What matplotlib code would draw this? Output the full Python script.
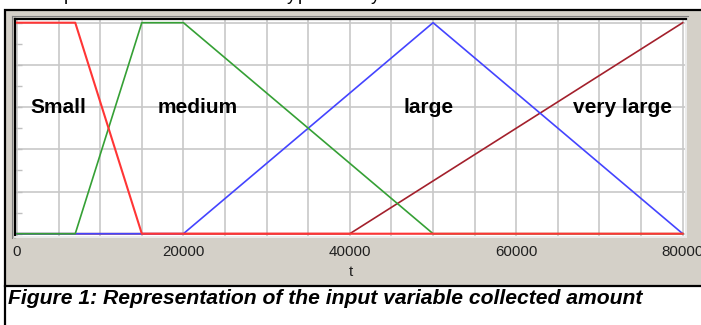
import numpy as np
import matplotlib.pyplot as plt
from matplotlib.patches import Rectangle
from matplotlib.lines import Line2D

# membership functions of the input variable "collected amount"
x_small = [0, 7000, 15000, 80000]
y_small = [1, 1, 0, 0]
x_medium = [0, 7000, 15000, 20000, 50000, 80000]
y_medium = [0, 0, 1, 1, 0, 0]
x_large = [0, 20000, 50000, 80000]
y_large = [0, 0, 1, 0]
x_vlarge = [0, 40000, 80000]
y_vlarge = [0, 0, 1]

set_names = ["Small", "medium", "large", "very large"]
name_x = [5000, 21750, 49400, 72800]
x_ticks = [0, 20000, 40000, 60000, 80000]

W, H = 701, 325
fig = plt.figure(figsize=(W / 100, H / 100), dpi=100)
fig.patch.set_facecolor("white")

def fx(px):
    return px / W

def fy(py):
    return 1 - py / H

# window panel (grey) with black table border
fig.add_artist(Rectangle((fx(5), fy(286)), fx(720), 276 / H, transform=fig.transFigure,
                         facecolor="#d4d0c8", edgecolor="black", lw=1.6, zorder=0))
fig.add_artist(Line2D([fx(5), fx(5)], [fy(286), 0], transform=fig.transFigure,
                      color="black", lw=1.6))

# sunken frame around the plot
fig.add_artist(Line2D([fx(12), fx(688)], [fy(16), fy(16)], transform=fig.transFigure,
                      color="#808080", lw=0.8))
fig.add_artist(Line2D([fx(11.5), fx(11.5)], [fy(16), fy(238)], transform=fig.transFigure,
                      color="#808080", lw=0.8))

ax = fig.add_axes([fx(15), fy(237), fx(686 - 15), (237 - 19) / H])
ax.set_facecolor("white")

sx = 8.3213  # px per 1000
sy = 211.0
ax.set_xlim(-2 / sx * 1000, 80000 + 3.3 / sx * 1000)
ax.set_ylim(-3.3 / sy, 1 + 3.7 / sy)

for gx in np.arange(0, 80001, 5000):
    ax.axvline(gx, color="#c8c8c8", lw=1.2, zorder=1)
for gy in np.arange(0, 1.01, 0.2):
    ax.axhline(gy, color="#c8c8c8", lw=1.2, zorder=1)

ax.plot(x_vlarge, y_vlarge, color="#a3202c", lw=1.2, zorder=3)
ax.plot(x_large, y_large, color="#4444ff", lw=1.2, zorder=4)
ax.plot(x_medium, y_medium, color="#35a035", lw=1.2, zorder=5)
ax.plot(x_small, y_small, color="#ff3535", lw=1.5, zorder=6)

for name, nx in zip(set_names, name_x):
    ax.text(nx, 0.572, name, ha="center", va="baseline", fontsize=15,
            fontweight="bold", family="Liberation Sans", zorder=7)

ax.set_xticks(x_ticks)
ax.set_xticklabels([str(v) for v in x_ticks], family="Liberation Sans",
                   fontsize=10.9, color="#202020")
ax.set_yticks(np.arange(0, 1.01, 0.1))
ax.tick_params(axis="x", length=0, pad=6)
ax.tick_params(axis="y", direction="in", length=5, color="#c0c0c0", width=1,
               labelleft=False)
ax.set_xlabel("t", family="Liberation Sans", fontsize=10.9, color="#202020",
              labelpad=4)

for s in ["left", "top"]:
    ax.spines[s].set_color("black")
    ax.spines[s].set_linewidth(1.6)
for s in ["right", "bottom"]:
    ax.spines[s].set_color("#ececec")
    ax.spines[s].set_linewidth(1.4)

fig.text(fx(8), fy(298), "Figure 1: Representation of the input variable collected amount",
         ha="left", va="center", fontsize=15.2, fontweight="bold", style="italic",
         family="Liberation Sans")

# bottom of the previous text line, cut off by the crop
for px, ch in [(64, "p"), (287, "y"), (298, "p"), (371, "y")]:
    fig.text(fx(px), fy(0.5), ch, ha="left", va="baseline", fontsize=13,
             family="Liberation Sans")

fig.savefig("out.png", dpi=100)
